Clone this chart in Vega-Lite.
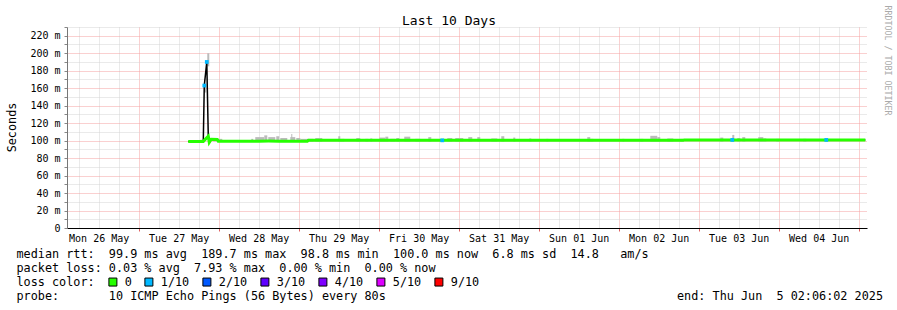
{
  "$schema": "https://vega.github.io/schema/vega-lite/v6.json",
  "width": 800,
  "height": 201,
  "autosize": {"type": "none"},
  "padding": {"left": 67, "top": 27, "right": 30, "bottom": 82},
  "background": "white",
  "title": {"text": "Last 10 Days", "font": "DejaVu Sans Mono", "fontSize": 13, "fontWeight": "normal", "color": "#000000", "anchor": "middle", "frame": "group", "dx": -18, "offset": -23},
  "datasets": {
    "median": [
      {"t": "2025-05-27T14:53", "ms": 99.0, "loss": "0"},
      {"t": "2025-05-27T16:30", "ms": 98.9, "loss": "0"},
      {"t": "2025-05-27T18:00", "ms": 99.0, "loss": "0"},
      {"t": "2025-05-27T19:23", "ms": 99.1, "loss": "0"},
      {"t": "2025-05-27T19:41", "ms": 163, "loss": "1/10"},
      {"t": "2025-05-27T20:26", "ms": 190, "loss": "1/10"},
      {"t": "2025-05-27T20:53", "ms": 105, "loss": "0"},
      {"t": "2025-05-27T21:11", "ms": 98, "loss": "0"},
      {"t": "2025-05-27T21:47", "ms": 101.5, "loss": "0"},
      {"t": "2025-05-27T23:35", "ms": 101.3, "loss": "0"},
      {"t": "2025-05-27T23:53", "ms": 99.4, "loss": "0"},
      {"t": "2025-05-28T03:00", "ms": 99.4, "loss": "0"},
      {"t": "2025-05-28T06:00", "ms": 99.3, "loss": "0"},
      {"t": "2025-05-28T09:00", "ms": 99.4, "loss": "0"},
      {"t": "2025-05-28T12:00", "ms": 99.4, "loss": "0"},
      {"t": "2025-05-28T15:00", "ms": 99.5, "loss": "0"},
      {"t": "2025-05-28T18:00", "ms": 99.4, "loss": "0"},
      {"t": "2025-05-28T21:00", "ms": 99.4, "loss": "0"},
      {"t": "2025-05-29T00:00", "ms": 99.4, "loss": "0"},
      {"t": "2025-05-29T02:37", "ms": 99.4, "loss": "0"},
      {"t": "2025-05-29T02:55", "ms": 100.3, "loss": "0"},
      {"t": "2025-05-29T06:00", "ms": 100.3, "loss": "0"},
      {"t": "2025-05-29T09:00", "ms": 100.3, "loss": "0"},
      {"t": "2025-05-29T12:00", "ms": 100.3, "loss": "0"},
      {"t": "2025-05-29T15:00", "ms": 100.3, "loss": "0"},
      {"t": "2025-05-29T18:00", "ms": 100.3, "loss": "0"},
      {"t": "2025-05-29T21:00", "ms": 100.3, "loss": "0"},
      {"t": "2025-05-30T00:00", "ms": 100.3, "loss": "0"},
      {"t": "2025-05-30T03:00", "ms": 100.3, "loss": "0"},
      {"t": "2025-05-30T06:00", "ms": 100.3, "loss": "0"},
      {"t": "2025-05-30T09:00", "ms": 100.3, "loss": "0"},
      {"t": "2025-05-30T12:00", "ms": 100.3, "loss": "0"},
      {"t": "2025-05-30T15:00", "ms": 100.3, "loss": "0"},
      {"t": "2025-05-30T18:00", "ms": 100.3, "loss": "0"},
      {"t": "2025-05-30T19:05", "ms": 100.3, "loss": "1/10"},
      {"t": "2025-05-30T21:00", "ms": 100.3, "loss": "0"},
      {"t": "2025-05-31T00:00", "ms": 100.3, "loss": "0"},
      {"t": "2025-05-31T03:00", "ms": 100.3, "loss": "0"},
      {"t": "2025-05-31T06:00", "ms": 100.3, "loss": "0"},
      {"t": "2025-05-31T09:00", "ms": 100.3, "loss": "0"},
      {"t": "2025-05-31T12:00", "ms": 100.3, "loss": "0"},
      {"t": "2025-05-31T15:00", "ms": 100.3, "loss": "0"},
      {"t": "2025-05-31T18:00", "ms": 100.3, "loss": "0"},
      {"t": "2025-05-31T21:00", "ms": 100.3, "loss": "0"},
      {"t": "2025-06-01T00:00", "ms": 100.3, "loss": "0"},
      {"t": "2025-06-01T03:00", "ms": 100.3, "loss": "0"},
      {"t": "2025-06-01T06:00", "ms": 100.3, "loss": "0"},
      {"t": "2025-06-01T09:00", "ms": 100.3, "loss": "0"},
      {"t": "2025-06-01T12:00", "ms": 100.3, "loss": "0"},
      {"t": "2025-06-01T15:00", "ms": 100.3, "loss": "0"},
      {"t": "2025-06-01T18:00", "ms": 100.3, "loss": "0"},
      {"t": "2025-06-01T21:00", "ms": 100.3, "loss": "0"},
      {"t": "2025-06-02T00:00", "ms": 100.3, "loss": "0"},
      {"t": "2025-06-02T03:00", "ms": 100.3, "loss": "0"},
      {"t": "2025-06-02T06:00", "ms": 100.3, "loss": "0"},
      {"t": "2025-06-02T09:00", "ms": 100.3, "loss": "0"},
      {"t": "2025-06-02T12:00", "ms": 100.3, "loss": "0"},
      {"t": "2025-06-02T15:00", "ms": 100.3, "loss": "0"},
      {"t": "2025-06-02T18:00", "ms": 100.3, "loss": "0"},
      {"t": "2025-06-02T19:25", "ms": 100.3, "loss": "0"},
      {"t": "2025-06-02T19:43", "ms": 100.8, "loss": "0"},
      {"t": "2025-06-02T21:00", "ms": 100.8, "loss": "0"},
      {"t": "2025-06-03T00:00", "ms": 100.8, "loss": "0"},
      {"t": "2025-06-03T03:00", "ms": 100.8, "loss": "0"},
      {"t": "2025-06-03T06:00", "ms": 100.8, "loss": "0"},
      {"t": "2025-06-03T09:00", "ms": 100.8, "loss": "0"},
      {"t": "2025-06-03T10:05", "ms": 100.8, "loss": "1/10"},
      {"t": "2025-06-03T12:00", "ms": 100.8, "loss": "0"},
      {"t": "2025-06-03T15:00", "ms": 100.8, "loss": "0"},
      {"t": "2025-06-03T18:00", "ms": 100.8, "loss": "0"},
      {"t": "2025-06-03T21:00", "ms": 100.8, "loss": "0"},
      {"t": "2025-06-04T00:00", "ms": 100.8, "loss": "0"},
      {"t": "2025-06-04T03:00", "ms": 100.8, "loss": "0"},
      {"t": "2025-06-04T06:00", "ms": 100.8, "loss": "0"},
      {"t": "2025-06-04T09:00", "ms": 100.8, "loss": "0"},
      {"t": "2025-06-04T12:00", "ms": 100.8, "loss": "0"},
      {"t": "2025-06-04T14:17", "ms": 100.8, "loss": "1/10"},
      {"t": "2025-06-04T15:00", "ms": 100.8, "loss": "0"},
      {"t": "2025-06-04T18:00", "ms": 100.8, "loss": "0"},
      {"t": "2025-06-04T21:00", "ms": 100.8, "loss": "0"},
      {"t": "2025-06-05T00:00", "ms": 100.8, "loss": "0"},
      {"t": "2025-06-05T02:00", "ms": 100.8, "loss": "0"}
    ],
    "smoke": [
      {"t": "2025-05-27T18:29", "t2": "2025-05-27T19:23", "lo": 99, "hi": 101},
      {"t": "2025-05-27T19:41", "t2": "2025-05-27T20:17", "lo": 155, "hi": 165},
      {"t": "2025-05-27T20:35", "t2": "2025-05-27T21:11", "lo": 185, "hi": 200},
      {"t": "2025-05-27T22:23", "t2": "2025-05-28T01:05", "lo": 99, "hi": 102},
      {"t": "2025-05-28T09:47", "t2": "2025-05-28T10:23", "lo": 99, "hi": 102},
      {"t": "2025-05-28T10:59", "t2": "2025-05-28T13:41", "lo": 99, "hi": 104},
      {"t": "2025-05-28T13:41", "t2": "2025-05-28T14:35", "lo": 99, "hi": 106},
      {"t": "2025-05-28T14:53", "t2": "2025-05-28T16:59", "lo": 99, "hi": 104},
      {"t": "2025-05-28T17:17", "t2": "2025-05-28T18:11", "lo": 99, "hi": 105},
      {"t": "2025-05-28T18:29", "t2": "2025-05-28T20:35", "lo": 99, "hi": 103},
      {"t": "2025-05-28T21:29", "t2": "2025-05-28T22:59", "lo": 99, "hi": 104},
      {"t": "2025-05-28T21:47", "t2": "2025-05-28T22:05", "lo": 99, "hi": 107.7},
      {"t": "2025-05-28T23:17", "t2": "2025-05-29T00:29", "lo": 99, "hi": 103},
      {"t": "2025-05-29T00:29", "t2": "2025-05-29T04:23", "lo": 99, "hi": 102},
      {"t": "2025-05-29T04:59", "t2": "2025-05-29T07:05", "lo": 99, "hi": 103},
      {"t": "2025-05-29T11:53", "t2": "2025-05-29T12:29", "lo": 99, "hi": 105},
      {"t": "2025-05-29T12:29", "t2": "2025-05-29T13:41", "lo": 99, "hi": 102},
      {"t": "2025-05-29T17:17", "t2": "2025-05-29T18:29", "lo": 99, "hi": 103},
      {"t": "2025-05-29T19:59", "t2": "2025-05-29T20:53", "lo": 99, "hi": 102},
      {"t": "2025-05-29T21:29", "t2": "2025-05-29T22:05", "lo": 99, "hi": 102.5},
      {"t": "2025-05-30T00:11", "t2": "2025-05-30T02:00", "lo": 99, "hi": 103.5},
      {"t": "2025-05-30T02:00", "t2": "2025-05-30T02:53", "lo": 99, "hi": 104.5},
      {"t": "2025-05-30T03:29", "t2": "2025-05-30T04:59", "lo": 99, "hi": 102},
      {"t": "2025-05-30T05:17", "t2": "2025-05-30T06:11", "lo": 99, "hi": 103},
      {"t": "2025-05-30T07:41", "t2": "2025-05-30T09:29", "lo": 99, "hi": 104.5},
      {"t": "2025-05-30T10:59", "t2": "2025-05-30T12:29", "lo": 99, "hi": 102},
      {"t": "2025-05-30T14:53", "t2": "2025-05-30T15:47", "lo": 99, "hi": 104},
      {"t": "2025-05-30T20:35", "t2": "2025-05-30T22:05", "lo": 99, "hi": 103},
      {"t": "2025-05-30T22:59", "t2": "2025-05-31T01:23", "lo": 99, "hi": 103},
      {"t": "2025-05-31T02:53", "t2": "2025-05-31T04:05", "lo": 99, "hi": 104},
      {"t": "2025-05-31T05:35", "t2": "2025-05-31T06:29", "lo": 99, "hi": 104},
      {"t": "2025-05-31T09:47", "t2": "2025-05-31T11:35", "lo": 99, "hi": 102.5},
      {"t": "2025-05-31T12:47", "t2": "2025-05-31T13:41", "lo": 99, "hi": 105},
      {"t": "2025-05-31T16:23", "t2": "2025-05-31T16:59", "lo": 99, "hi": 103.5},
      {"t": "2025-05-31T21:11", "t2": "2025-05-31T21:47", "lo": 99, "hi": 102.5},
      {"t": "2025-06-01T02:17", "t2": "2025-06-01T02:53", "lo": 99, "hi": 102},
      {"t": "2025-06-01T14:35", "t2": "2025-06-01T15:29", "lo": 99, "hi": 104},
      {"t": "2025-06-01T15:29", "t2": "2025-06-01T16:23", "lo": 99, "hi": 102},
      {"t": "2025-06-02T01:05", "t2": "2025-06-02T01:41", "lo": 99, "hi": 102},
      {"t": "2025-06-02T06:29", "t2": "2025-06-02T07:23", "lo": 99, "hi": 102},
      {"t": "2025-06-02T09:29", "t2": "2025-06-02T11:35", "lo": 99, "hi": 105.5},
      {"t": "2025-06-02T11:35", "t2": "2025-06-02T12:29", "lo": 99, "hi": 104},
      {"t": "2025-06-02T14:35", "t2": "2025-06-02T16:23", "lo": 99, "hi": 102.5},
      {"t": "2025-06-02T18:29", "t2": "2025-06-02T19:23", "lo": 99, "hi": 102},
      {"t": "2025-06-03T06:29", "t2": "2025-06-03T07:23", "lo": 99, "hi": 103.5},
      {"t": "2025-06-03T10:05", "t2": "2025-06-03T10:41", "lo": 99, "hi": 106.5},
      {"t": "2025-06-03T11:35", "t2": "2025-06-03T12:29", "lo": 99, "hi": 103},
      {"t": "2025-06-03T13:05", "t2": "2025-06-03T13:59", "lo": 99, "hi": 104},
      {"t": "2025-06-03T17:53", "t2": "2025-06-03T19:23", "lo": 99, "hi": 104},
      {"t": "2025-06-03T19:23", "t2": "2025-06-03T20:17", "lo": 99, "hi": 102.5},
      {"t": "2025-06-03T23:17", "t2": "2025-06-04T00:11", "lo": 99, "hi": 102},
      {"t": "2025-06-04T07:23", "t2": "2025-06-04T08:17", "lo": 99, "hi": 102}
    ]
  },
  "resolve": {"axis": {"y": "independent"}},
  "encoding": {
    "x": {"field": "t", "type": "temporal",
      "scale": {"domain": [{"year": 2025, "month": 5, "date": 26, "hours": 2, "minutes": 30}, {"year": 2025, "month": 6, "date": 5, "hours": 2, "minutes": 30}]},
      "axis": {
        "values": [
          {"year": 2025, "month": 5, "date": 26, "hours": 6}, {"year": 2025, "month": 5, "date": 26, "hours": 12}, {"year": 2025, "month": 5, "date": 26, "hours": 18},
          {"year": 2025, "month": 5, "date": 27, "hours": 0}, {"year": 2025, "month": 5, "date": 27, "hours": 6}, {"year": 2025, "month": 5, "date": 27, "hours": 12}, {"year": 2025, "month": 5, "date": 27, "hours": 18},
          {"year": 2025, "month": 5, "date": 28, "hours": 0}, {"year": 2025, "month": 5, "date": 28, "hours": 6}, {"year": 2025, "month": 5, "date": 28, "hours": 12}, {"year": 2025, "month": 5, "date": 28, "hours": 18},
          {"year": 2025, "month": 5, "date": 29, "hours": 0}, {"year": 2025, "month": 5, "date": 29, "hours": 6}, {"year": 2025, "month": 5, "date": 29, "hours": 12}, {"year": 2025, "month": 5, "date": 29, "hours": 18},
          {"year": 2025, "month": 5, "date": 30, "hours": 0}, {"year": 2025, "month": 5, "date": 30, "hours": 6}, {"year": 2025, "month": 5, "date": 30, "hours": 12}, {"year": 2025, "month": 5, "date": 30, "hours": 18},
          {"year": 2025, "month": 5, "date": 31, "hours": 0}, {"year": 2025, "month": 5, "date": 31, "hours": 6}, {"year": 2025, "month": 5, "date": 31, "hours": 12}, {"year": 2025, "month": 5, "date": 31, "hours": 18},
          {"year": 2025, "month": 6, "date": 1, "hours": 0}, {"year": 2025, "month": 6, "date": 1, "hours": 6}, {"year": 2025, "month": 6, "date": 1, "hours": 12}, {"year": 2025, "month": 6, "date": 1, "hours": 18},
          {"year": 2025, "month": 6, "date": 2, "hours": 0}, {"year": 2025, "month": 6, "date": 2, "hours": 6}, {"year": 2025, "month": 6, "date": 2, "hours": 12}, {"year": 2025, "month": 6, "date": 2, "hours": 18},
          {"year": 2025, "month": 6, "date": 3, "hours": 0}, {"year": 2025, "month": 6, "date": 3, "hours": 6}, {"year": 2025, "month": 6, "date": 3, "hours": 12}, {"year": 2025, "month": 6, "date": 3, "hours": 18},
          {"year": 2025, "month": 6, "date": 4, "hours": 0}, {"year": 2025, "month": 6, "date": 4, "hours": 6}, {"year": 2025, "month": 6, "date": 4, "hours": 12}, {"year": 2025, "month": 6, "date": 4, "hours": 18},
          {"year": 2025, "month": 6, "date": 5, "hours": 0}
        ],
        "labelExpr": "hours(datum.value) == 12 ? timeFormat(datum.value, '%a %d %b') : ''",
        "labelOverlap": false, "labelFlush": false,
        "grid": true,
        "gridColor": {"condition": {"test": "hours(datum.value) == 0", "value": "#f5a0a0"}, "value": "#d4d4d4"},
        "gridDash": [1, 1],
        "tickSize": 3,
        "tickColor": {"condition": {"test": "hours(datum.value) == 0", "value": "#e06060"}, "value": "#ffffff"},
        "domainColor": "#000000",
        "labelFont": "DejaVu Sans Mono", "labelFontSize": 10, "labelColor": "#000000", "labelPadding": 2,
        "title": [
          "median\u00a0rtt:\u00a0\u00a099.9\u00a0ms\u00a0avg\u00a0\u00a0189.7\u00a0ms\u00a0max\u00a0\u00a098.8\u00a0ms\u00a0min\u00a0\u00a0100.0\u00a0ms\u00a0now\u00a0\u00a06.8\u00a0ms\u00a0sd\u00a0\u00a014.8\u00a0\u00a0\u00a0am/s",
          "packet\u00a0loss:\u00a00.03\u00a0%\u00a0avg\u00a0\u00a07.93\u00a0%\u00a0max\u00a0\u00a00.00\u00a0%\u00a0min\u00a0\u00a00.00\u00a0%\u00a0now",
          "loss\u00a0color:",
          "probe:\u00a0\u00a0\u00a0\u00a0\u00a0\u00a0\u00a010\u00a0ICMP\u00a0Echo\u00a0Pings\u00a0(56\u00a0Bytes)\u00a0every\u00a080s\u00a0\u00a0\u00a0\u00a0\u00a0\u00a0\u00a0\u00a0\u00a0\u00a0\u00a0\u00a0\u00a0\u00a0\u00a0\u00a0\u00a0\u00a0\u00a0\u00a0\u00a0\u00a0\u00a0\u00a0\u00a0\u00a0\u00a0\u00a0\u00a0\u00a0\u00a0\u00a0\u00a0\u00a0\u00a0\u00a0\u00a0\u00a0\u00a0\u00a0\u00a0end:\u00a0Thu\u00a0Jun\u00a0\u00a05\u00a002:06:02\u00a02025"
        ],
        "titleX": -51, "titleY": 20, "titleAlign": "left", "titleBaseline": "top", "titleLineHeight": 14,
        "titleFont": "DejaVu Sans Mono", "titleFontSize": 11.8, "titleFontWeight": "normal", "titleColor": "#000000", "titleLimit": 3000
      }}
  },
  "layer": [
    {
      "data": {"name": "smoke"},
      "mark": {"type": "rect", "color": "#bbbbbb"},
      "encoding": {
        "x2": {"field": "t2"},
        "y": {"field": "lo", "type": "quantitative", "scale": {"domain": [0, 230], "nice": false},
          "axis": {"orient": "right", "title": "RRDTOOL / TOBI OETIKER", "titleAngle": 90, "titleX": 19, "titleY": 33, "titleAlign": "center", "titleBaseline": "middle", "labels": false, "ticks": false, "domain": false, "grid": false, "titleFont": "DejaVu Sans Mono", "titleFontSize": 8.3, "titleFontWeight": "normal", "titleColor": "#aaaaaa"}},
        "y2": {"field": "hi"}
      }
    },
    {
      "data": {"name": "median"},
      "mark": {"type": "line", "color": "#000000", "strokeWidth": 1.5},
      "encoding": {
        "y": {"field": "ms", "type": "quantitative", "scale": {"domain": [0, 230], "nice": false},
          "axis": {
            "orient": "left",
            "values": [0, 10, 20, 30, 40, 50, 60, 70, 80, 90, 100, 110, 120, 130, 140, 150, 160, 170, 180, 190, 200, 210, 220, 230],
            "labelExpr": "datum.value % 20 != 0 ? '' : (datum.value == 0 ? '0' : datum.value + ' m')",
            "grid": true,
            "gridColor": {"condition": {"test": "datum.value % 20 == 0", "value": "#f5a0a0"}, "value": "#d4d4d4"},
            "gridDash": [1, 1],
            "tickSize": 3, "tickColor": "#888888",
            "domainColor": "#777777",
            "labelFont": "DejaVu Sans Mono", "labelFontSize": 10, "labelColor": "#000000", "labelPadding": 4,
            "title": "Seconds", "titleX": -56, "titleY": 100, "titleAngle": -90, "titleAlign": "center", "titleBaseline": "middle",
            "titleFont": "DejaVu Sans Mono", "titleFontSize": 11.8, "titleFontWeight": "normal", "titleColor": "#000000"
          }}
      }
    },
    {
      "data": {"name": "median"},
      "transform": [{"filter": "datum.loss == '0'"}],
      "mark": {"type": "line", "color": "#26ff00", "strokeWidth": 3},
      "encoding": {
        "y": {"field": "ms", "type": "quantitative", "scale": {"domain": [0, 230], "nice": false}, "axis": null}
      }
    },
    {
      "data": {"name": "median"},
      "transform": [{"filter": "datum.loss != '0'"}],
      "mark": {"type": "square", "filled": true, "size": 14, "opacity": 1},
      "encoding": {
        "y": {"field": "ms", "type": "quantitative", "scale": {"domain": [0, 230], "nice": false}, "axis": null},
        "color": {"field": "loss", "type": "nominal",
          "scale": {"domain": ["0", "1/10", "2/10", "3/10", "4/10", "5/10", "9/10"], "range": ["#26ff00", "#00b8ff", "#0059ff", "#5e00ff", "#7e00ff", "#dd00ff", "#ff0000"]},
          "legend": {
            "orient": "none", "legendX": 40, "legendY": 249, "direction": "horizontal", "title": null,
            "symbolType": "square", "symbolSize": 64, "symbolStrokeColor": "#000000", "symbolStrokeWidth": 1, "symbolOpacity": 1,
            "labelFont": "DejaVu Sans Mono", "labelFontSize": 11.8, "labelColor": "#000000", "labelOffset": 6, "columnPadding": 10, "padding": 0,
            "encode": {"symbols": {"update": {"size": {"value": 64}, "stroke": {"value": "#000000"}, "strokeWidth": {"value": 1}, "shape": {"value": "square"}, "opacity": {"value": 1}}}}
          }}
      }
    }
  ],
  "config": {"view": {"stroke": null}}
}
